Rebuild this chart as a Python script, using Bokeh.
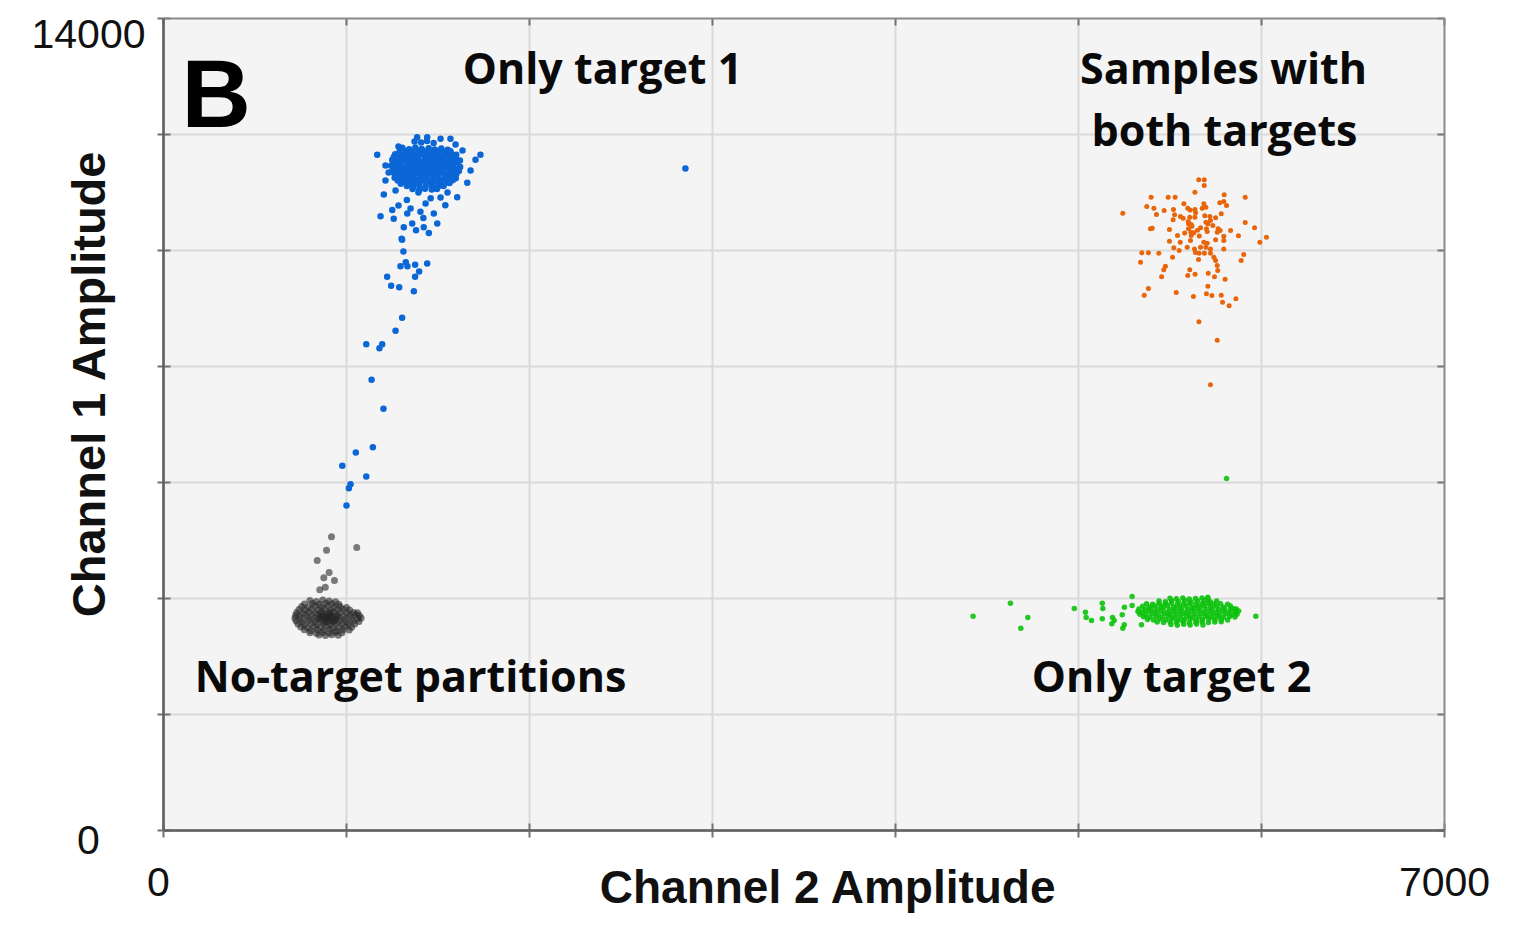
import math
from bokeh.plotting import figure
from bokeh.models import Range1d, Label
from bokeh.embed import file_html
from bokeh.resources import INLINE

# ---------------- data ----------------
x_limits = [0, 7000]
y_limits = [0, 14000]
x_grid_values = [1000, 2000, 3000, 4000, 5000, 6000]
y_grid_values = [2000, 4000, 6000, 8000, 10000, 12000]
x_tick_labels = ["0", "7000"]
y_tick_labels = ["0", "14000"]
x_title = "Channel 2 Amplitude"
y_title = "Channel 1 Amplitude"
panel_letter = "B"
cluster_names = ["Only target 1", "Samples with", "both targets", "No-target partitions", "Only target 2"]

# No-target partitions (grey)
grey_points = [
    (800,3965),(835,3950),(870,3975),(905,3955),(940,3945),
    (770,3905),(815,3915),(852,3900),(888,3920),(922,3910),(958,3900),
    (755,3860),(790,3850),(825,3870),(860,3855),(895,3865),(930,3850),(965,3860),(1000,3845),
    (740,3810),(772,3800),(808,3815),(843,3805),(878,3820),(912,3800),(947,3810),(982,3815),(1017,3800),
    (728,3760),(762,3750),(797,3765),(831,3755),(866,3770),(900,3750),(935,3760),(969,3765),(1004,3750),(1038,3760),(1060,3755),
    (722,3710),(745,3700),(780,3715),(814,3705),(848,3720),(883,3700),(917,3710),(952,3715),(986,3700),(1020,3710),(1050,3720),(1070,3705),
    (718,3660),(752,3650),(787,3665),(821,3655),(856,3670),(890,3650),(925,3660),(959,3665),(994,3650),(1028,3660),(1062,3655),(1080,3665),
    (725,3610),(760,3600),(795,3615),(830,3605),(864,3620),(898,3600),(933,3610),(967,3615),(1002,3600),(1036,3610),(1068,3605),
    (735,3560),(769,3550),(804,3565),(838,3555),(873,3570),(907,3550),(942,3560),(976,3565),(1011,3550),(1045,3560),
    (750,3510),(786,3500),(821,3515),(856,3505),(890,3520),(924,3500),(959,3510),(993,3515),(1028,3505),
    (770,3460),(805,3450),(840,3465),(875,3455),(910,3470),(945,3450),(980,3460),(1015,3455),
    (800,3410),(835,3400),(870,3415),(905,3405),(940,3420),(975,3410),
    (850,3370),(885,3360),(920,3375),(955,3365),
    (860,3700),(890,3640),(920,3700),(880,3600),(910,3760),(850,3650),(940,3640),(900,3690),
    (870,3740),(930,3600),(895,3670),(915,3620),(875,3680),(905,3720),(945,3690),
    (918,5064),(1056,4879),(891,4833),(840,4655),(905,4448),(876,4357),(934,4310),(884,4195),(854,4150),
]

# Only target 2 (green)
green_points = [
    (5500,4005),(5535,3995),(5570,4010),(5605,3990),(5640,4000),(5675,4010),(5705,3995),
    (5440,3955),(5475,3945),(5510,3960),(5545,3950),(5580,3965),(5615,3945),(5650,3955),(5685,3960),(5720,3945),(5755,3955),
    (5372,3910),(5405,3900),(5440,3915),(5473,3905),(5507,3920),(5540,3900),(5574,3910),(5607,3915),(5641,3900),(5675,3910),(5708,3920),(5742,3905),(5776,3910),(5815,3900),
    (5350,3865),(5385,3855),(5418,3870),(5452,3860),(5486,3875),(5520,3855),(5553,3865),(5587,3870),(5620,3855),(5654,3865),(5688,3875),(5721,3860),(5755,3865),(5790,3855),(5830,3870),
    (5330,3820),(5363,3810),(5397,3825),(5430,3815),(5464,3830),(5497,3810),(5531,3820),(5564,3825),(5598,3810),(5631,3820),(5665,3830),(5698,3815),(5732,3820),(5765,3810),(5799,3825),(5832,3815),(5862,3820),
    (5325,3775),(5350,3765),(5384,3780),(5418,3770),(5452,3785),(5486,3765),(5519,3775),(5553,3780),(5587,3765),(5620,3775),(5654,3785),(5688,3770),(5721,3775),(5755,3765),(5789,3780),(5822,3770),(5856,3775),(5875,3785),
    (5335,3730),(5368,3720),(5402,3735),(5435,3725),(5469,3740),(5502,3720),(5536,3730),(5569,3735),(5603,3720),(5636,3730),(5670,3740),(5703,3725),(5737,3730),(5770,3720),(5804,3735),(5837,3725),(5866,3730),
    (5355,3685),(5390,3675),(5423,3690),(5457,3680),(5490,3695),(5524,3675),(5557,3685),(5591,3690),(5625,3675),(5658,3685),(5692,3695),(5725,3680),(5759,3685),(5792,3675),(5826,3690),(5855,3680),
    (5377,3640),(5410,3630),(5444,3645),(5477,3635),(5511,3650),(5544,3630),(5578,3640),(5611,3645),(5645,3630),(5678,3640),(5712,3650),(5745,3635),(5779,3640),(5815,3630),
    (5430,3595),(5465,3585),(5500,3600),(5535,3590),(5570,3605),(5605,3585),(5640,3595),(5675,3600),(5710,3585),(5745,3595),(5780,3600),
    (5505,3550),(5540,3540),(5575,3555),(5610,3545),(5645,3560),(5680,3545),
    (4424,3695),(4628,3919),(4723,3672),(4685,3488),(4977,3828),(5038,3764),(5042,3672),(5071,3621),
    (5130,3919),(5133,3828),(5130,3650),(5186,3672),(5195,3621),(5182,3563),(5239,3718),(5251,3850),
    (5293,4034),(5293,3879),(5250,3546),(5242,3488),(5344,3546),(5707,4022),(5969,3695),(5849,3822),
    (5858,3736),(5809,6069),
]

# Samples with both targets (orange)
orange_points = [
    (5657,11219),(5687,11219),(5687,11120),(5636,11006),(5397,10919),(5490,10919),(5528,10919),(5796,10960),
    (5911,10919),(5242,10643),(5373,10758),(5412,10730),(5468,10689),(5519,10707),(5576,10804),(5597,10730),
    (5636,10707),(5685,10804),(5696,10747),(5676,10730),(5772,10822),(5794,10845),(5809,10776),(5426,10620),
    (5525,10615),(5557,10586),(5572,10557),(5608,10575),(5636,10575),(5718,10586),(5749,10563),(5780,10632),
    (5517,10529),(5601,10460),(5616,10448),(5696,10488),(5707,10460),(5721,10517),(5734,10431),(5911,10483),
    (5962,10391),(5393,10373),(5403,10385),(5497,10362),(5601,10373),(5667,10391),(5699,10373),(5763,10373),
    (5774,10345),(5831,10345),(5614,10316),(5630,10304),(5703,10327),(5758,10316),(5541,10258),(5616,10258),
    (5794,10247),(5874,10253),(5497,10161),(5556,10143),(5612,10172),(5685,10143),(5703,10126),(5749,10184),
    (5794,10172),(5991,10143),(6027,10230),(5594,10057),(5634,10028),(5667,10057),(5696,10057),(5721,10028),
    (5521,10046),(5550,10000),(5794,10028),(5346,9960),(5382,9960),(5439,9954),(5639,9965),(5659,9954),
    (5688,9954),(5721,9954),(5903,9931),(5514,9885),(5740,9885),(5656,9845),(5749,9827),(5339,9799),
    (5889,9827),(5475,9730),(5758,9741),(5466,9667),(5608,9667),(5761,9655),(5597,9569),(5637,9592),
    (5709,9609),(5454,9546),(5743,9546),(5801,9506),(5707,9385),(5382,9345),(5359,9230),(5534,9276),
    (5628,9207),(5699,9253),(5729,9224),(5780,9230),(5860,9166),(5787,9109),(5823,9046),(5658,8770),
    (5758,8454),(5721,7684),
    (5600,10500),(5620,10420),(5650,10350),(5580,10300),(5660,10250),(5690,10600),(5640,10650),(5610,10700),
]

# Only target 1 (blue)
blue_points = [
    (1372,11880),(1408,11860),(1440,11890),(1476,11855),
    (1305,11770),(1342,11745),(1376,11775),(1411,11750),(1449,11765),(1482,11740),(1518,11760),(1553,11735),
    (1290,11705),(1324,11715),(1358,11700),(1393,11720),(1428,11710),(1463,11700),(1499,11715),(1535,11705),(1568,11710),
    (1266,11660),(1301,11645),(1334,11670),(1371,11650),(1404,11665),(1437,11640),(1472,11660),(1505,11655),(1541,11645),(1573,11670),(1600,11650),
    (1258,11610),(1292,11600),(1326,11615),(1360,11605),(1394,11620),(1430,11600),(1463,11610),(1497,11615),(1531,11605),(1565,11620),(1597,11600),
    (1250,11560),(1284,11545),(1317,11570),(1353,11550),(1387,11565),(1421,11540),(1454,11560),(1490,11555),(1522,11575),(1558,11545),(1591,11560),(1620,11550),
    (1265,11510),(1300,11500),(1335,11515),(1370,11505),(1404,11520),(1438,11500),(1472,11510),(1506,11515),(1540,11500),(1575,11510),(1605,11520),
    (1243,11460),(1277,11470),(1309,11445),(1345,11465),(1380,11450),(1412,11470),(1447,11455),(1483,11445),(1515,11465),(1551,11450),(1584,11470),(1621,11440),
    (1262,11405),(1294,11415),(1328,11400),(1362,11420),(1396,11410),(1430,11400),(1465,11415),(1500,11405),(1533,11420),(1568,11410),(1601,11400),
    (1248,11355),(1280,11370),(1317,11350),(1349,11365),(1385,11345),(1418,11360),(1452,11375),(1488,11350),(1520,11365),(1557,11345),(1589,11360),(1614,11370),
    (1265,11310),(1299,11300),(1333,11315),(1367,11305),(1402,11320),(1436,11300),(1470,11310),(1504,11315),(1538,11300),(1572,11310),(1600,11320),
    (1263,11255),(1295,11270),(1331,11250),(1364,11265),(1400,11245),(1432,11260),(1469,11270),(1501,11250),(1537,11265),(1569,11255),(1597,11245),
    (1280,11205),(1314,11215),(1348,11200),(1382,11220),(1416,11210),(1450,11200),(1484,11215),(1518,11205),(1552,11220),(1580,11210),
    (1297,11150),(1329,11165),(1365,11145),(1397,11160),(1434,11170),(1466,11150),(1502,11160),(1534,11145),(1563,11165),
    (1330,11110),(1364,11100),(1398,11115),(1432,11105),(1466,11120),(1500,11100),(1530,11110),
    (1361,11060),(1397,11045),(1429,11065),(1466,11050),(1494,11060),
    (1168,11650),(1732,11650),(1213,11207),(1204,10965),(1186,10591),(1258,10546),(1313,10402),(1605,10919),
    (1660,11167),(1705,11563),(1386,11953),(1441,11953),(1514,11925),(1568,11925),(1477,10638),(1496,10465),
    (1422,10402),(1359,10465),(1332,10638),(1404,10667),(1301,10202),(1213,11466),(1230,11345),(1678,11379),
    (1634,11724),(1284,11793),(1596,11828),(1350,10724),(1432,10810),(1514,10914),(1284,10776),(1552,11000),
    (1268,11034),(1393,11000),(1330,10870),(1460,10900),(1250,10700),(1540,10780),(1420,10560),(1380,10350),
    (1450,10300),
    (1304,10184),(1311,9983),(1295,9729),(1324,9798),(1333,9729),(1375,9753),(1441,9776),(1397,9638),
    (1375,9546),(1222,9546),(1244,9391),(1288,9367),(1368,9298),(1304,8840),(1268,8615),(1108,8384),
    (1195,8384),(1180,8315),(1137,7771),(1202,7271),(1144,6609),(1051,6517),(977,6287),(1108,6103),
    (1022,5971),(1013,5902),(1000,5603),(2852,11414),
]

# ---------------- layout (pixels of the 1523x942 page) ----------------
W, H = 1523, 942
FRAME_L, FRAME_R, FRAME_T, FRAME_B = 163, 1444, 18, 830
XPX = (x_limits[1] - x_limits[0]) / (FRAME_R - FRAME_L)   # data units per pixel
YPX = (y_limits[1] - y_limits[0]) / (FRAME_B - FRAME_T)

def px_x(px):
    return x_limits[0] + (px - FRAME_L) * XPX

def px_y(py):
    return y_limits[0] + (FRAME_B - py) * YPX

p = figure(width=W, height=H,
           x_range=Range1d(px_x(0), px_x(W)),
           y_range=Range1d(px_y(H), px_y(0)),
           x_axis_location=None, y_axis_location=None,
           output_backend="svg", toolbar_location=None,
           min_border=0, border_fill_color="white", background_fill_color="white",
           outline_line_color=None)
p.grid.visible = False

AXIS_GREY = "#737373"
GRID_GREY = "#dadada"

# plot area
p.quad(left=[x_limits[0]], right=[x_limits[1]], bottom=[y_limits[0]], top=[y_limits[1]],
       fill_color="#f4f4f4", line_color=None)
# grid
p.segment(x0=x_grid_values, y0=[y_limits[0]] * len(x_grid_values),
          x1=x_grid_values, y1=[y_limits[1]] * len(x_grid_values),
          line_color=GRID_GREY, line_width=2)
p.segment(x0=[x_limits[0]] * len(y_grid_values), y0=y_grid_values,
          x1=[x_limits[1]] * len(y_grid_values), y1=y_grid_values,
          line_color=GRID_GREY, line_width=2)

# ticks
all_x_ticks = [x_limits[0]] + x_grid_values + [x_limits[1]]
all_y_ticks = [y_limits[0]] + y_grid_values + [y_limits[1]]
nx_, ny_ = len(all_x_ticks), len(all_y_ticks)
p.segment(x0=all_x_ticks, y0=[y_limits[0] - 7 * YPX] * nx_, x1=all_x_ticks, y1=[y_limits[0] + 7 * YPX] * nx_,
          line_color=AXIS_GREY, line_width=2)
p.segment(x0=all_x_ticks, y0=[y_limits[1]] * nx_, x1=all_x_ticks, y1=[y_limits[1] - 7 * YPX] * nx_,
          line_color=AXIS_GREY, line_width=2)
p.segment(x0=[x_limits[0] - 6 * XPX] * ny_, y0=all_y_ticks, x1=[x_limits[0] + 7 * XPX] * ny_, y1=all_y_ticks,
          line_color=AXIS_GREY, line_width=2)
p.segment(x0=[x_limits[1]] * ny_, y0=all_y_ticks, x1=[x_limits[1] - 7 * XPX] * ny_, y1=all_y_ticks,
          line_color=AXIS_GREY, line_width=2)

# frame border
p.quad(left=[x_limits[0]], right=[x_limits[1]], bottom=[y_limits[0]], top=[y_limits[1]],
       fill_color=None, line_color="#8a8a8a", line_width=2)
p.segment(x0=[x_limits[0], x_limits[0]], y0=[y_limits[0], y_limits[0]],
          x1=[x_limits[0], x_limits[1]], y1=[y_limits[1], y_limits[0]],
          line_color="#626262", line_width=2.5)

def unzip(pts):
    return [a for a, b in pts], [b for a, b in pts]

gx, gy = unzip(grey_points)
p.scatter(gx, gy, size=7, marker="circle", fill_color="#262626", fill_alpha=0.6, line_color=None)
nx, ny = unzip(green_points)
p.scatter(nx, ny, size=5.5, marker="circle", fill_color="#0cc20c", fill_alpha=0.9, line_color=None)
ox, oy = unzip(orange_points)
p.scatter(ox, oy, size=5, marker="circle", fill_color="#e8650a", fill_alpha=1.0, line_color=None)
bx, by = unzip(blue_points)
p.scatter(bx, by, size=6.5, marker="circle", fill_color="#0b66d6", fill_alpha=1.0, line_color=None)

# ---------------- texts ----------------
def add_text(px, py, text, font, size, style="normal", align="center", angle=0.0, color="#111111"):
    p.add_layout(Label(x=px_x(px), y=px_y(py), text=text, text_font=font, text_font_size=f"{size}px",
                       text_font_style=style, text_color=color, text_align=align,
                       text_baseline="alphabetic", angle=angle))

TICK_FONT = "Liberation Sans"
add_text(145, 33, y_tick_labels[1], TICK_FONT, 41, align="right")
add_text(88, 839, y_tick_labels[0], TICK_FONT, 41)
add_text(158, 881, x_tick_labels[0], TICK_FONT, 41)
add_text(1444, 881, x_tick_labels[1], TICK_FONT, 41)

add_text(828, 886, x_title, "Liberation Sans", 46, style="bold")
add_text(88, 383, y_title, "Liberation Sans", 47, style="bold", angle=math.pi / 2)

add_text(181, 93, panel_letter, "Liberation Sans", 96, style="bold", align="left", color="#000000")

ANN_FONT = "Open Sans"
ann_px = [(602, 67), (1223, 67), (1224, 129), (410, 675), (1171, 675)]
for (ax_, ay_), t in zip(ann_px, cluster_names):
    add_text(ax_, ay_, t, ANN_FONT, 43, style="bold", color="#0a0a0a")

open("out.html", "w").write(file_html(p, INLINE))
